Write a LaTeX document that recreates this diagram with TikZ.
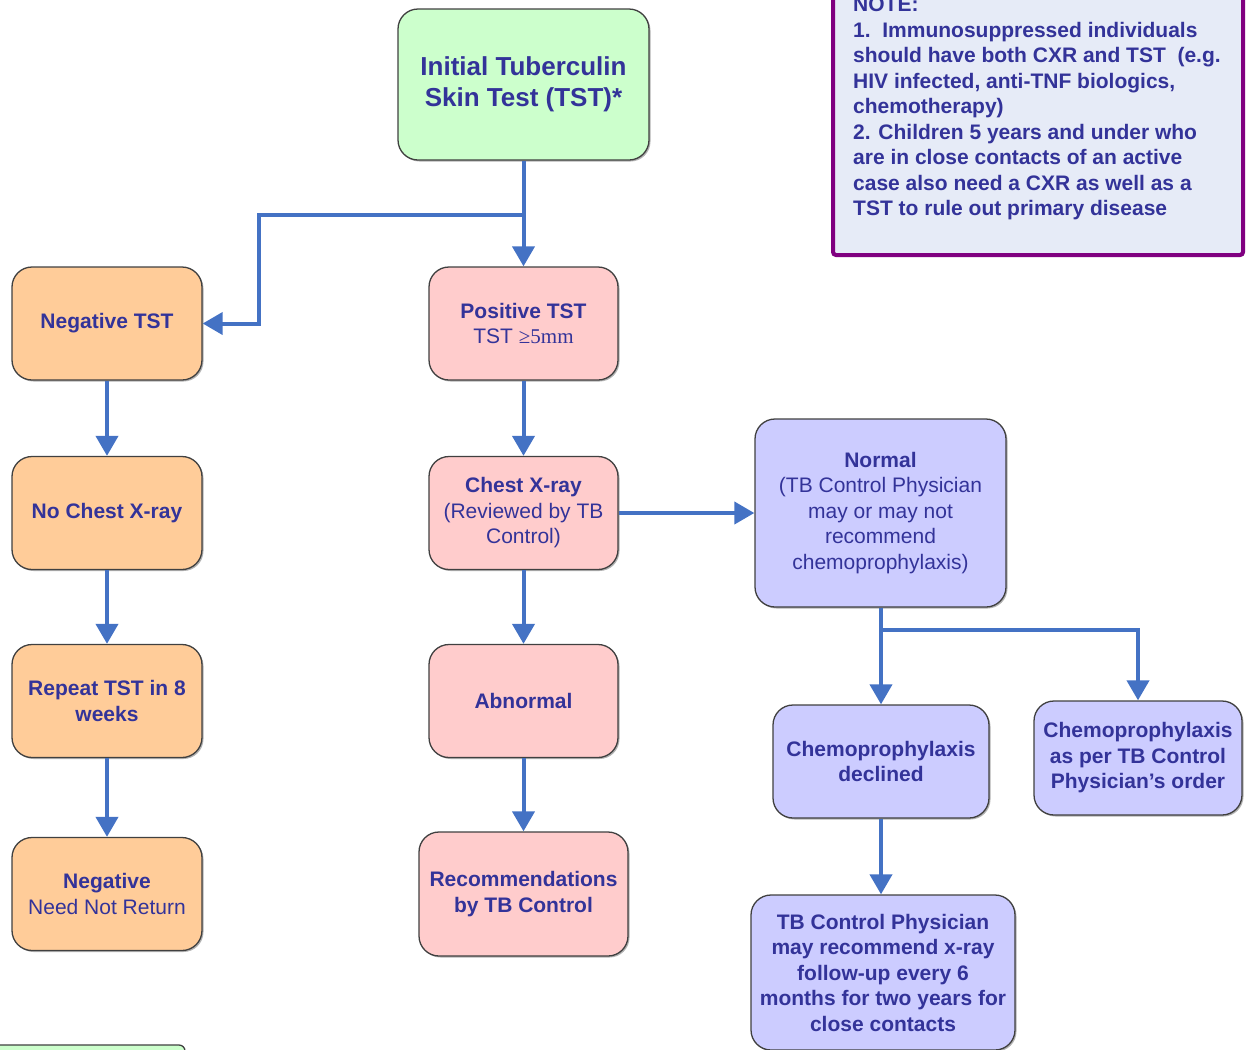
\documentclass[tikz,border=0pt]{standalone}
\usepackage{fontspec}
\setmainfont{Liberation Sans}
\newfontfamily\serifx{Liberation Serif}
\usetikzlibrary{arrows.meta,shadows}
\definecolor{txt}{RGB}{51,51,153}
\definecolor{arrc}{RGB}{68,114,196}
\definecolor{fgreen}{RGB}{204,255,204}
\definecolor{forange}{RGB}{255,204,153}
\definecolor{fpink}{RGB}{255,204,204}
\definecolor{flav}{RGB}{204,204,255}
\definecolor{fnote}{RGB}{230,235,247}
\definecolor{purp}{RGB}{128,0,128}
\tikzset{
  box/.style={draw=black!75, line width=1.3pt, rounded corners=20pt, align=center,
    text=txt, font=\fontsize{21}{25.5}\selectfont\bfseries, inner sep=0pt,
    drop shadow={shadow xshift=1.5pt,shadow yshift=-1.5pt,opacity=0.3,fill=black}},
  arr/.style={draw=arrc, line width=4pt, -{Triangle[width=22pt,length=20pt]}},
  plain/.style={draw=arrc, line width=4pt}
}
\begin{document}
\begin{tikzpicture}[x=1pt,y=-1pt]
\useasboundingbox (0,0) rectangle (1251,1050);
% note box
\draw[purp, line width=4pt, fill=fnote, rounded corners=3pt,
  drop shadow={shadow xshift=1.5pt,shadow yshift=-1.5pt,opacity=0.3,fill=black}]
  (833,-20) rectangle (1243,255);
\node[anchor=north west, inner sep=0pt, align=left, text=txt,
  font=\fontsize{21}{25.5}\selectfont\bfseries] (note) at (853,-3)
  {NOTE:\\
   1.\ \ Immunosuppressed individuals\\
   should have both CXR and TST\ \ (e.g.\\
   HIV infected, anti-TNF biologics,\\
   chemotherapy)\\
   2. Children 5 years and under who\\
   are in close contacts of an active\\
   case also need a CXR as well as a\\
   TST to rule out primary disease};
% partial green box bottom-left
\draw[draw=black!75, line width=1.3pt, fill=fgreen, rounded corners=6pt]
  (-20,1045) rectangle (185,1100);
% nodes
\node[box, fill=fgreen, minimum width=251pt, minimum height=151pt,
  font=\fontsize{26}{31}\selectfont\bfseries] (init) at (523.5,84.5)
  {Initial Tuberculin\\Skin Test (TST)*};
\node[box, fill=forange, minimum width=190pt, minimum height=113pt] (neg) at (107,323.5) {Negative TST};
\node[box, fill=forange, minimum width=190pt, minimum height=113pt] (nocx) at (107,513) {No Chest X-ray};
\node[box, fill=forange, minimum width=190pt, minimum height=113pt] (rep) at (107,701) {Repeat TST in 8\\weeks};
\node[box, fill=forange, minimum width=190pt, minimum height=113pt] (negnr) at (107,894)
  {Negative\\\mdseries Need Not Return};
\node[box, fill=fpink, minimum width=189pt, minimum height=113pt] (pos) at (523.5,323.5)
  {Positive TST\\\mdseries TST {\serifx ≥5mm}};
\node[box, fill=fpink, minimum width=189pt, minimum height=113pt] (cxr) at (523.5,513)
  {Chest X-ray\\\mdseries (Reviewed by TB\\\mdseries Control)};
\node[box, fill=fpink, minimum width=189pt, minimum height=113pt] (abn) at (523.5,701) {Abnormal};
\node[box, fill=fpink, minimum width=209pt, minimum height=124pt] (rec) at (523.5,894)
  {Recommendations\\by TB Control};
\node[box, fill=flav, minimum width=251pt, minimum height=188pt] (norm) at (880.5,513)
  {Normal\\\mdseries (TB Control Physician\\\mdseries may or may not\\\mdseries recommend\\\mdseries chemoprophylaxis)};
\node[box, fill=flav, minimum width=216pt, minimum height=113pt] (decl) at (881,761.5)
  {Chemoprophylaxis\\declined};
\node[box, fill=flav, minimum width=208pt, minimum height=114pt] (order) at (1138,758)
  {Chemoprophylaxis\\as per TB Control\\Physician’s order};
\node[box, fill=flav, minimum width=264pt, minimum height=155pt] (phys) at (883,972.5)
  {TB Control Physician\\may recommend x-ray\\follow-up every 6\\months for two years for\\close contacts};
% connectors
\coordinate (b1) at (525.5,215);
\coordinate (k1) at (259,215);
\draw[arr] (init) -- (pos);
\draw[arr] (b1) -- (k1) |- (neg.east);
\draw[arr] (neg) -- (nocx);
\draw[arr] (nocx) -- (rep);
\draw[arr] (rep) -- (negnr);
\draw[arr] (pos) -- (cxr);
\draw[arr] (cxr) -- (abn);
\draw[arr] (abn) -- (rec);
\draw[arr] (cxr) -- (norm);
\coordinate (b2) at (879,630);
\draw[arr] (norm.south -| decl.north) -- (decl.north);
\draw[arr] (b2) -| (order.north);
\draw[arr] (decl.south) -- (decl.south |- phys.north);
\end{tikzpicture}
\end{document}
